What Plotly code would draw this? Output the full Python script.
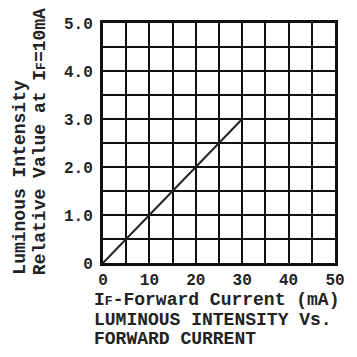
import plotly.graph_objects as go

# Data
current_ma = [0, 30]
relative_intensity = [0.0, 3.0]
x_ticks = [0, 10, 20, 30, 40, 50]
x_tick_labels = ["0", "10", "20", "30", "40", "50"]
y_ticks = [0, 1, 2, 3, 4, 5]
y_tick_labels = ["0", "1.0", "2.0", "3.0", "4.0", "5.0"]
small_f = "<span style='font-size:13px'>F</span>"
y_title_lines = ["Luminous Intensity", "Relative Value at I" + small_f + "=10mA"]
x_title_lines = ["I" + small_f + "-Forward Current (mA)", "LUMINOUS INTENSITY Vs.", "FORWARD CURRENT"]

W, H = 357, 357
L, R, T, B = 103, 16, 23, 94

mono = "Liberation Mono"
fig = go.Figure()
fig.add_trace(go.Scatter(x=current_ma, y=relative_intensity, mode="lines",
                         line=dict(color="#222222", width=2), hoverinfo="skip",
                         showlegend=False))

fig.update_layout(
    width=W, height=H,
    margin=dict(l=L, r=R, t=T, b=B),
    paper_bgcolor="white", plot_bgcolor="white",
    xaxis=dict(range=[0, 50], tickvals=x_ticks, ticktext=x_tick_labels,
               showgrid=True, gridcolor="#111111", gridwidth=2,
               showline=True, linecolor="#111111", linewidth=3,
               mirror=True, ticks="", zeroline=False,
               tickfont=dict(family=mono, size=16, color="#222222", weight="bold"),
               fixedrange=True),
    yaxis=dict(range=[0, 5], tickvals=y_ticks, ticktext=y_tick_labels,
               showgrid=True, gridcolor="#111111", gridwidth=2,
               showline=True, linecolor="#111111", linewidth=3,
               mirror=True, ticks="", zeroline=False, ticklabelstandoff=4,
               tickfont=dict(family=mono, size=16, color="#222222", weight="bold"),
               fixedrange=True),
)
# minor grid every 5 mA and 0.5 units
fig.update_xaxes(minor=dict(dtick=5, tick0=0, showgrid=True, gridcolor="#111111", gridwidth=2))
fig.update_yaxes(minor=dict(dtick=0.5, tick0=0, showgrid=True, gridcolor="#111111", gridwidth=2))

pw, ph = W - L - R, H - T - B
def px(xp):
    return (xp - L) / pw
def py(yp):
    return (H - B - yp) / ph

title_font = dict(family=mono, size=18, color="#222222", weight="bold")
for xc, line in zip([17, 38], y_title_lines):
    fig.add_annotation(text=line, xref="paper", yref="paper", x=px(xc), y=py(277),
                       xanchor="center", yanchor="bottom", textangle=-90,
                       showarrow=False, font=title_font)
for yc, line in zip([300, 320, 339], x_title_lines):
    fig.add_annotation(text=line, xref="paper", yref="paper", x=px(92), y=py(yc),
                       xanchor="left", yanchor="middle", showarrow=False,
                       font=title_font)

fig.write_html("out.html", config={"displayModeBar": False},
               post_script="document.body.style.margin='0';document.body.style.overflow='hidden';")
